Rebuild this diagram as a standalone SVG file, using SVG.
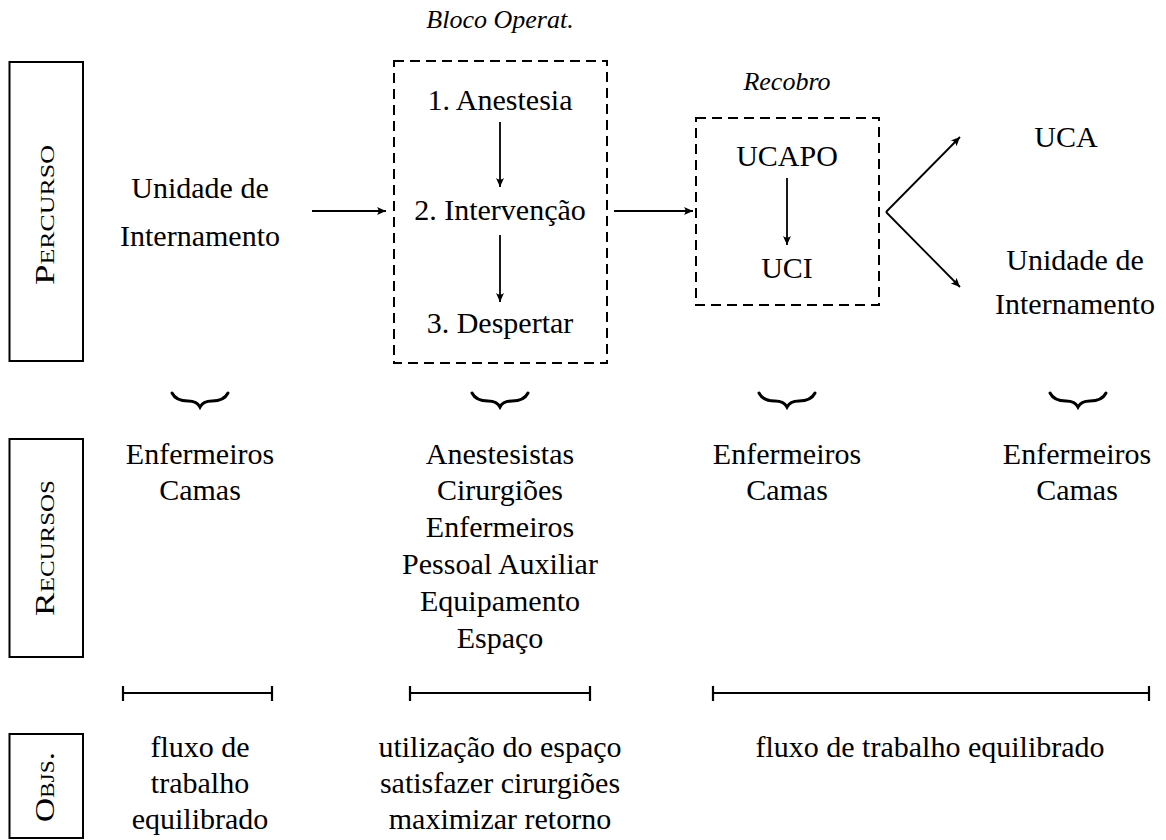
<svg xmlns="http://www.w3.org/2000/svg" width="1166" height="840" viewBox="0 0 1166 840">
<style>
text{font-family:'Liberation Serif','Times New Roman',serif;font-size:30px;fill:#000;text-anchor:middle}
.it{font-style:italic;font-size:26px}
.side{font-variant:small-caps;font-size:27px}
.box{fill:none;stroke:#000;stroke-width:2}
.dash{fill:none;stroke:#000;stroke-width:2;stroke-dasharray:10 6}
.arr{fill:none;stroke:#000;stroke-width:1.8;marker-end:url(#ah)}
.brace{fill:none;stroke:#000;stroke-width:3;stroke-linecap:round}
.bar{fill:none;stroke:#000;stroke-width:2.2}
</style>
<defs>
<marker id="ah" viewBox="-10 -5 12 10" refX="0" refY="0" markerWidth="12" markerHeight="10" markerUnits="userSpaceOnUse" orient="auto">
<path d="M0,0 L-9,-4 Q-6,0 -9,4 Z" fill="#000"/>
</marker>
</defs>
<g id="labels-side">
<rect class="box" x="9.5" y="62" width="73.5" height="299"/>
<text class="side" transform="translate(53.5,215) rotate(-90)" textLength="140" lengthAdjust="spacingAndGlyphs">Percurso</text>
<rect class="box" x="9.5" y="439" width="73.5" height="218"/>
<text class="side" transform="translate(53.5,548) rotate(-90)" textLength="136" lengthAdjust="spacingAndGlyphs">Recursos</text>
<rect class="box" x="9.5" y="734" width="73.5" height="104"/>
<text class="side" transform="translate(53.5,787) rotate(-90)" textLength="70" lengthAdjust="spacingAndGlyphs">Objs.</text>
</g>
<g id="unidade-in">
<text x="200" y="198">Unidade de</text>
<text x="200" y="246">Internamento</text>
</g>
<g id="bloco">
<text class="it" x="500" y="28">Bloco Operat.</text>
<rect class="dash" x="394" y="61" width="213" height="302"/>
<text x="500" y="110">1. Anestesia</text>
<text x="500" y="220">2. Intervenção</text>
<text x="500" y="333">3. Despertar</text>
</g>
<g id="recobro">
<text class="it" x="787" y="90">Recobro</text>
<rect class="dash" x="696" y="118" width="183" height="187"/>
<text x="787" y="166">UCAPO</text>
<text x="787" y="278">UCI</text>
</g>
<g id="uca">
<text x="1066" y="147">UCA</text>
</g>
<g id="unidade-out">
<text x="1075" y="270">Unidade de</text>
<text x="1075" y="314">Internamento</text>
</g>
<g id="connectors">
<line class="arr" x1="312" y1="211" x2="386" y2="211"/>
<line class="arr" x1="614" y1="211" x2="693" y2="211"/>
<line class="arr" x1="500" y1="122" x2="500" y2="187"/>
<line class="arr" x1="500" y1="235" x2="500" y2="302"/>
<line class="arr" x1="787" y1="178" x2="787" y2="245"/>
<line class="arr" x1="886" y1="212" x2="960" y2="137"/>
<line class="arr" x1="886" y1="212" x2="960" y2="287"/>
</g>
<g id="braces">
<path class="brace" d="M172,393 Q176,401 188,401 Q197,401 200,407 Q203,401 212,401 Q224,401 228,393"/>
<path class="brace" d="M472,393 Q476,401 488,401 Q497,401 500,407 Q503,401 512,401 Q524,401 528,393"/>
<path class="brace" d="M759,393 Q763,401 775,401 Q784,401 787,407 Q790,401 799,401 Q811,401 815,393"/>
<path class="brace" d="M1050,393 Q1054,401 1066,401 Q1075,401 1078,407 Q1081,401 1090,401 Q1102,401 1106,393"/>
</g>
<g id="recursos">
<text x="200" y="464">Enfermeiros</text>
<text x="200" y="500">Camas</text>
<text x="500" y="464">Anestesistas</text>
<text x="500" y="500">Cirurgiões</text>
<text x="500" y="537">Enfermeiros</text>
<text x="500" y="574">Pessoal Auxiliar</text>
<text x="500" y="611">Equipamento</text>
<text x="500" y="648">Espaço</text>
<text x="787" y="464">Enfermeiros</text>
<text x="787" y="500">Camas</text>
<text x="1077" y="464">Enfermeiros</text>
<text x="1077" y="500">Camas</text>
</g>
<g id="bars">
<path class="bar" d="M123,693 H272 M123,686 V701 M272,686 V701"/>
<path class="bar" d="M410,693 H590 M410,686 V701 M590,686 V701"/>
<path class="bar" d="M713,693 H1149 M713,686 V701 M1149,686 V701"/>
</g>
<g id="objetivos">
<text x="200" y="757">fluxo de</text>
<text x="200" y="793">trabalho</text>
<text x="200" y="829">equilibrado</text>
<text x="500" y="757">utilização do espaço</text>
<text x="500" y="793">satisfazer cirurgiões</text>
<text x="500" y="829">maximizar retorno</text>
<text x="930" y="757">fluxo de trabalho equilibrado</text>
</g>
</svg>
